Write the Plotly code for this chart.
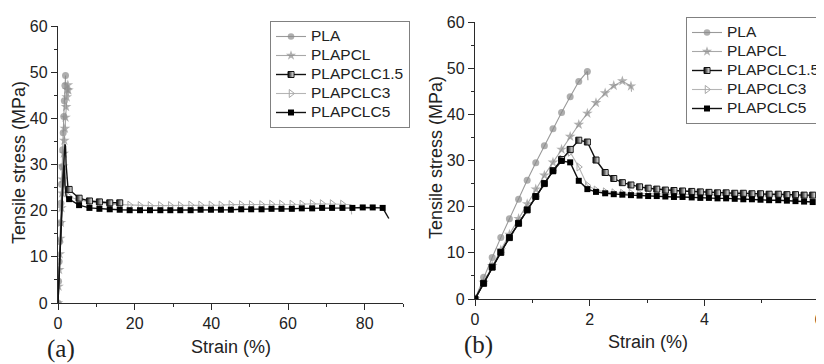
import plotly.graph_objects as go

# ---------------- data ----------------
series_names = ["PLA", "PLAPCL", "PLAPCLC1.5", "PLAPCLC3", "PLAPCLC5"]

# fine strain grid (panel b and initial ramp of panel a)
strain_fine = [0.00, 0.15, 0.30, 0.45, 0.60, 0.76, 0.91, 1.06, 1.21, 1.36,
               1.51, 1.66, 1.81, 1.96, 2.11, 2.27, 2.42, 2.57, 2.72, 2.87,
               3.02, 3.17, 3.32, 3.47, 3.62, 3.78, 3.93, 4.08, 4.23, 4.38,
               4.53, 4.68, 4.83, 4.98, 5.13, 5.29, 5.44, 5.59, 5.74, 5.89]

pla_strain = [0.00, 0.15, 0.30, 0.45, 0.60, 0.76, 0.91, 1.06, 1.21, 1.36,
              1.51, 1.66, 1.81, 1.96, 1.97]
pla_stress = [0.0, 4.7, 9.0, 13.3, 17.4, 21.6, 25.7, 29.5, 33.2, 36.9,
              40.4, 43.8, 47.1, 49.3, 47.4]

plapcl_strain = [0.00, 0.15, 0.30, 0.45, 0.60, 0.76, 0.91, 1.06, 1.21, 1.36,
                 1.51, 1.66, 1.81, 1.96, 2.11, 2.27, 2.42, 2.57, 2.72, 2.73]
plapcl_stress = [0.0, 3.6, 7.2, 10.6, 14.0, 17.4, 20.6, 23.8, 26.8, 29.6,
                 32.4, 35.2, 37.8, 40.2, 42.5, 44.6, 46.2, 47.2, 46.1, 44.9]

c15_stress = [0.0, 3.4, 6.9, 10.1, 13.3, 16.4, 19.3, 22.2, 25.0, 27.8,
              30.2, 32.4, 34.4, 34.0, 30.1, 27.4, 26.1, 25.2, 24.7, 24.3,
              24.0, 23.8, 23.6, 23.5, 23.4, 23.3, 23.2, 23.1, 23.0, 23.0,
              22.9, 22.9, 22.8, 22.8, 22.7, 22.7, 22.6, 22.6, 22.5, 22.5]
c3_stress = [0.0, 3.4, 6.9, 10.1, 13.3, 16.4, 19.3, 22.2, 25.0, 27.8,
             30.3, 31.8, 28.6, 24.6, 23.6, 23.2, 23.0, 22.9, 22.9, 22.8,
             22.8, 22.8, 22.7, 22.7, 22.7, 22.6, 22.6, 22.6, 22.5, 22.5,
             22.5, 22.4, 22.4, 22.4, 22.4, 22.3, 22.3, 22.3, 22.3, 22.3]
c5_stress = [0.0, 3.4, 6.9, 10.1, 13.3, 16.4, 19.3, 22.2, 25.0, 27.7,
             29.9, 29.6, 25.6, 23.8, 23.2, 22.9, 22.7, 22.6, 22.5, 22.4,
             22.3, 22.3, 22.2, 22.1, 22.1, 22.0, 21.9, 21.9, 21.8, 21.8,
             21.7, 21.6, 21.6, 21.5, 21.4, 21.4, 21.3, 21.2, 21.1, 21.0]

# coarse plateau data for panel a
c15_strain_a = [2.9, 5.5, 8.2, 10.8, 13.5, 16.1]
c15_stress_a = [24.6, 22.7, 22.1, 21.9, 21.7, 21.7]

c3_strain_a = [2.9, 5.5, 8.2, 10.8, 13.5, 16.1, 18.7, 21.4, 24.0, 26.7,
               29.3, 31.9, 34.6, 37.2, 39.9, 42.5, 45.1, 47.8, 50.4, 53.1,
               55.7, 58.3, 61.0, 63.6, 66.3, 68.9, 71.5, 74.2]
c3_stress_a = [23.0, 22.3, 21.9, 21.6, 21.4, 21.3, 21.2, 21.1, 21.1, 21.1,
               21.1, 21.1, 21.2, 21.2, 21.2, 21.2, 21.3, 21.3, 21.3, 21.3,
               21.4, 21.4, 21.4, 21.4, 21.5, 21.5, 21.5, 21.4]
c3_break_strain = [74.2, 76.4, 76.6]
c3_break_stress = [21.4, 21.3, 19.2]

c5_strain_a = [2.9, 5.5, 8.2, 10.8, 13.5, 16.1, 18.7, 21.4, 24.0, 26.7,
               29.3, 31.9, 34.6, 37.2, 39.9, 42.5, 45.1, 47.8, 50.4, 53.1,
               55.7, 58.3, 61.0, 63.6, 66.3, 68.9, 71.5, 74.2, 76.8, 79.5,
               82.1, 84.7]
c5_stress_a = [22.5, 21.2, 20.6, 20.4, 20.3, 20.2, 20.1, 20.1, 20.1, 20.1,
               20.1, 20.1, 20.1, 20.2, 20.2, 20.2, 20.2, 20.3, 20.3, 20.3,
               20.4, 20.4, 20.4, 20.5, 20.5, 20.6, 20.6, 20.6, 20.6, 20.7,
               20.7, 20.6]
c5_break_strain = [84.7, 86.3]
c5_break_stress = [20.6, 18.3]

y_ticks = [0, 10, 20, 30, 40, 50, 60]
xa_ticks = [0, 20, 40, 60, 80]
xb_ticks = [0, 2, 4, 6]

# ---------------- styles ----------------
FONT = "Liberation Sans"
LEG_SPAN = '<span style="font-size:15.5px">{}</span>'

styles = {
    "PLA": dict(line=dict(color="#9a9a9a", width=1.1),
                marker=dict(symbol="circle", color="#8c8c8c", size=7,
                            line=dict(width=0))),
    "PLAPCL": dict(line=dict(color="#a8a8a8", width=1.1),
                   marker=dict(symbol="star", color="#8e8e8e", size=8,
                               line=dict(width=0))),
    "PLAPCLC1.5": dict(line=dict(color="#111111", width=1.4),
                       marker=dict(symbol="square", color="#000000", size=6,
                                   gradient=dict(type="horizontal", color="#ffffff"),
                                   line=dict(color="#111111", width=1))),
    "PLAPCLC3": dict(line=dict(color="#b5b5b5", width=1.1),
                     marker=dict(symbol="triangle-right-open", color="#a8a8a8", size=7,
                                 line=dict(width=1))),
    "PLAPCLC5": dict(line=dict(color="#111111", width=1.4),
                     marker=dict(symbol="square", color="#000000", size=6,
                                 line=dict(width=0))),
}
rank = {n: i for i, n in enumerate(series_names)}

fig = go.Figure()


def add(x, y, name, xaxis, yaxis, legend, mode="lines+markers", showlegend=True,
        sizes=None):
    st = styles[name]
    mk = dict(st["marker"])
    if sizes is not None:
        mk["size"] = sizes
    fig.add_trace(go.Scatter(
        x=x, y=y, mode=mode, name=LEG_SPAN.format(name),
        line=st["line"], marker=mk, xaxis=xaxis, yaxis=yaxis,
        legend=legend, showlegend=showlegend, legendrank=rank[name] + 1,
        hoverinfo="skip"))


def sizes_no_last(x, name):
    s = styles[name]["marker"]["size"]
    return [s] * (len(x) - 1) + [0]


# ---------------- panel (a) ----------------
add(pla_strain, pla_stress, "PLA", "x", "y", "legend",
    sizes=sizes_no_last(pla_strain, "PLA"))
add(plapcl_strain, plapcl_stress, "PLAPCL", "x", "y", "legend",
    sizes=sizes_no_last(plapcl_strain, "PLAPCL"))

ramp_idx = [i for i, s in enumerate(strain_fine) if s < 2.8]
for name, fine_y, cx, cy in [
        ("PLAPCLC3", c3_stress, c3_strain_a, c3_stress_a),
        ("PLAPCLC1.5", c15_stress, c15_strain_a, c15_stress_a),
        ("PLAPCLC5", c5_stress, c5_strain_a, c5_stress_a)]:
    rx = [strain_fine[i] for i in ramp_idx] + [cx[0]]
    ry = [fine_y[i] for i in ramp_idx] + [cy[0]]
    add(rx, ry, name, "x", "y", "legend", mode="lines", showlegend=False)
    if name == "PLAPCLC3":
        add(c3_break_strain, c3_break_stress, name, "x", "y", "legend",
            mode="lines", showlegend=False)
    if name == "PLAPCLC5":
        add(c5_break_strain, c5_break_stress, name, "x", "y", "legend",
            mode="lines", showlegend=False)
    add(cx, cy, name, "x", "y", "legend")

# ---------------- panel (b) ----------------
add(pla_strain, pla_stress, "PLA", "x2", "y2", "legend2",
    sizes=sizes_no_last(pla_strain, "PLA"))
add(plapcl_strain, plapcl_stress, "PLAPCL", "x2", "y2", "legend2",
    sizes=sizes_no_last(plapcl_strain, "PLAPCL"))
add(strain_fine, c3_stress, "PLAPCLC3", "x2", "y2", "legend2")
add(strain_fine, c15_stress, "PLAPCLC1.5", "x2", "y2", "legend2")
add(strain_fine, c5_stress, "PLAPCLC5", "x2", "y2", "legend2")

# ---------------- layout ----------------
# the page body has an 8px margin, so the figure is offset by 8px
OFF = 8
W, H = 824 - OFF, 364 - OFF


def px_x(p):
    return (p - OFF) / W


def px_y(p):
    return 1 - (p - OFF) / H


axis_common = dict(
    showline=True, linecolor="#2a2a2a", linewidth=1.3,
    ticks="outside", ticklen=6, tickwidth=1.3, tickcolor="#2a2a2a",
    showgrid=False, zeroline=False, automargin=False,
    tickfont=dict(family=FONT, size=16, color="#222222"),
    minor=dict(ticks="outside", ticklen=3, tickwidth=1.1, tickcolor="#2a2a2a",
               showgrid=False),
)

fig.update_layout(
    template="none",
    width=W, height=H,
    margin=dict(l=0, r=0, t=0, b=0, pad=0, autoexpand=False),
    paper_bgcolor="white", plot_bgcolor="white",
    font=dict(family=FONT, size=16, color="#222222"),
    xaxis=dict(axis_common, domain=[px_x(58), px_x(403)], range=[0, 90],
               tickvals=xa_ticks, anchor="y", minor=dict(axis_common["minor"], dtick=10)),
    yaxis=dict(axis_common, domain=[px_y(303), px_y(26)],
               range=[0, 60], tickvals=y_ticks, anchor="x",
               minor=dict(axis_common["minor"], dtick=5)),
    xaxis2=dict(axis_common, domain=[px_x(475), px_x(819)], range=[0, 6],
                tickvals=xb_ticks, anchor="y2", minor=dict(axis_common["minor"], dtick=1)),
    yaxis2=dict(axis_common, domain=[px_y(299), px_y(22)],
                range=[0, 60], tickvals=y_ticks, anchor="x2",
                minor=dict(axis_common["minor"], dtick=5)),
    legend=dict(x=px_x(270), y=px_y(21), xanchor="left", yanchor="top",
                bgcolor="white", bordercolor="#808080", borderwidth=1,
                font=dict(family=FONT, size=12, color="#222222"),
                tracegroupgap=0),
    legend2=dict(x=px_x(686), y=px_y(17), xanchor="left", yanchor="top",
                 bgcolor="white", bordercolor="#808080", borderwidth=1,
                 font=dict(family=FONT, size=12, color="#222222"),
                 tracegroupgap=0),
    showlegend=True,
)

annots = [
    dict(text="Tensile stress (MPa)", x=px_x(19), y=px_y(163), textangle=-90,
         font=dict(family=FONT, size=18, color="#222222")),
    dict(text="Tensile stress (MPa)", x=px_x(436), y=px_y(158), textangle=-90,
         font=dict(family=FONT, size=18, color="#222222")),
    dict(text="Strain (%)", x=px_x(231), y=px_y(347),
         font=dict(family=FONT, size=18, color="#222222")),
    dict(text="Strain (%)", x=px_x(648), y=px_y(342),
         font=dict(family=FONT, size=18, color="#222222")),
    dict(text="(a)", x=px_x(61), y=px_y(349),
         font=dict(family="Liberation Serif", size=25, color="#222222")),
    dict(text="(b)", x=px_x(479), y=px_y(345),
         font=dict(family="Liberation Serif", size=25, color="#222222")),
]
for a in annots:
    a.update(xref="paper", yref="paper", showarrow=False,
             xanchor="center", yanchor="middle")
fig.update_layout(annotations=annots)

fig.write_html("out.html")
